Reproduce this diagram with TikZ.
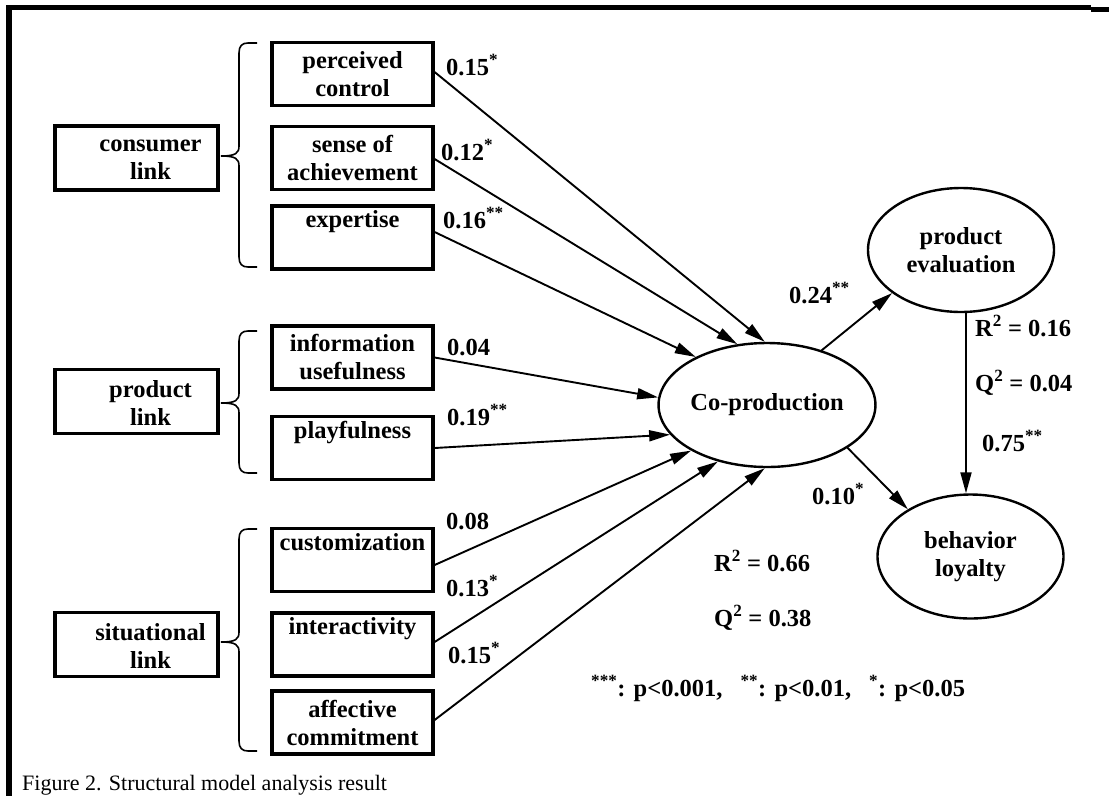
\documentclass[tikz,border=0pt]{standalone}
\usepackage{fontspec}
\setmainfont{Liberation Serif}
\usetikzlibrary{shapes.geometric,arrows.meta}
\newcommand\mybrace[3]{%
  \draw[bracestyle] (257,#1) -- (248,#1) .. controls (242,#1) and (239,{#1+3}) .. (239,{#1+10})
    -- (239,{#2-10}) .. controls (239,{#2-3}) and (236,#2) .. (221,#2)
    .. controls (236,#2) and (239,{#2+3}) .. (239,{#2+10})
    -- (239,{#3-10}) .. controls (239,{#3-3}) and (242,#3) .. (248,#3) -- (257,#3);}
\begin{document}
\begin{tikzpicture}[x=1pt,y=-1pt,
  bigfont/.style={font=\bfseries\fontsize{24.5}{28}\selectfont},
  itembox/.style={bigfont,draw,line width=3.2pt,rectangle,minimum width=161,minimum height=63,inner sep=0pt,align=center},
  linkbox/.style={draw,line width=3.2pt,rectangle,minimum width=163,minimum height=64,inner sep=0pt},
  linktext/.style={bigfont,align=center,inner sep=0pt},
  latent/.style={bigfont,draw,line width=2.4pt,ellipse,minimum width=186,minimum height=124,inner sep=0pt,align=center},
  arr/.style={line width=1.9pt,-{Triangle[length=21pt,width=11pt]}},
  lab/.style={bigfont,anchor=base west,inner sep=0pt},
  bracestyle/.style={line width=1.6pt}]
\useasboundingbox (0,0) rectangle (1109,796);
% frame
\fill (6,5) rectangle (1091,10);
\fill (1091,7) rectangle (1109,11.5);
\fill (6,5) rectangle (12,796);

% link boxes
\node[linkbox] (cl) at (136.5,158) {};
\node[linktext] (clt) at ([xshift=14pt,yshift=-1.5pt]cl.center) {consumer\\link};
\node[linkbox] (plk) at (136.5,401.5) {};
\node[linktext] (plkt) at ([xshift=14pt,yshift=-1.5pt]plk.center) {product\\link};
\node[linkbox] (sl) at (136.5,644.5) {};
\node[linktext] (slt) at ([xshift=14pt,yshift=-1.5pt]sl.center) {situational\\link};

% braces
\mybrace{43}{156}{267}
\mybrace{331}{403}{473}
\mybrace{529}{642}{751}

% item boxes
\node[itembox] (pc) at (352.5,74) {perceived\\control};
\node[itembox] (sa) at (352.5,158) {sense of\\achievement};
\node[itembox] (ex) at (352.5,237.5) {expertise\\\strut};
\node[itembox] (iu) at (352.5,357.5) {information\\usefulness};
\node[itembox] (pl) at (352.5,448) {playfulness\\\strut};
\node[itembox] (cu) at (352.5,560) {customization\\\strut};
\node[itembox] (in) at (352.5,644.5) {interactivity\\\strut};
\node[itembox] (ac) at (352.5,722.5) {affective\\commitment};

% latent variables
\node[latent] (co) at (767,405) {Co-production};
\node[latent] (pe) at (961,250) {product\\evaluation};
\node[latent] (bl) at (970.5,556.5) {behavior\\loyalty};

% arrows
\draw[arr] ([yshift=2pt]pc.east) -- (co.92);
\draw[arr] ([yshift=-1pt]sa.east) -- (co.116);
\draw[arr] ([yshift=5.5pt]ex.east) -- (co.146);
\draw[arr] (iu.east) -- (co.176);
\draw[arr] (pl.east) -- (co.197);
\draw[arr] ([yshift=-5pt]cu.east) -- (co.211);
\draw[arr] ([yshift=2.5pt]in.east) -- (co.229);
\draw[arr] ([yshift=2.5pt]ac.east) -- (co.268);
\draw[arr] (co.45) -- (pe.212);
\draw[arr] (co.332) -- (bl.143);
\coordinate (vx) at (966,0);
\draw[arr] (vx |- pe.south) -- (vx |- bl.north);

% path labels
\node[lab] (l1) at (446,75) {0.15\textsuperscript{*}};
\node[lab] (l2) at (441,160) {0.12\textsuperscript{*}};
\node[lab] (l3) at (443,228) {0.16\textsuperscript{**}};
\node[lab] (l4) at (447,355) {0.04};
\node[lab] (l5) at (447,425) {0.19\textsuperscript{**}};
\node[lab] (l6) at (446,529) {0.08};
\node[lab] (l7) at (446,596) {0.13\textsuperscript{*}};
\node[lab] (l8) at (448,663) {0.15\textsuperscript{*}};
\node[lab] (l9) at (789,303) {0.24\textsuperscript{**}};
\node[lab] (l10) at (812,504) {0.10\textsuperscript{*}};
\node[lab] (r1) at (975,336) {R\textsuperscript{2} = 0.16};
\node[lab] (q1) at (975,391) {Q\textsuperscript{2} = 0.04};
\node[lab] (l11) at (982,451) {0.75\textsuperscript{**}};
\node[lab] (r2) at (714,571) {R\textsuperscript{2} = 0.66};
\node[lab] (q2) at (714,626) {Q\textsuperscript{2} = 0.38};
\node[lab] (fn) at (591,696) {\textsuperscript{***}: p<0.001,\hspace{18pt}\textsuperscript{**}: p<0.01,\hspace{18pt}\textsuperscript{*}: p<0.05};

% caption
\node[anchor=base west,inner sep=0pt,font=\fontsize{22}{26}\selectfont] (cap) at (22,790) {Figure 2. Structural model analysis result};
\end{tikzpicture}
\end{document}
